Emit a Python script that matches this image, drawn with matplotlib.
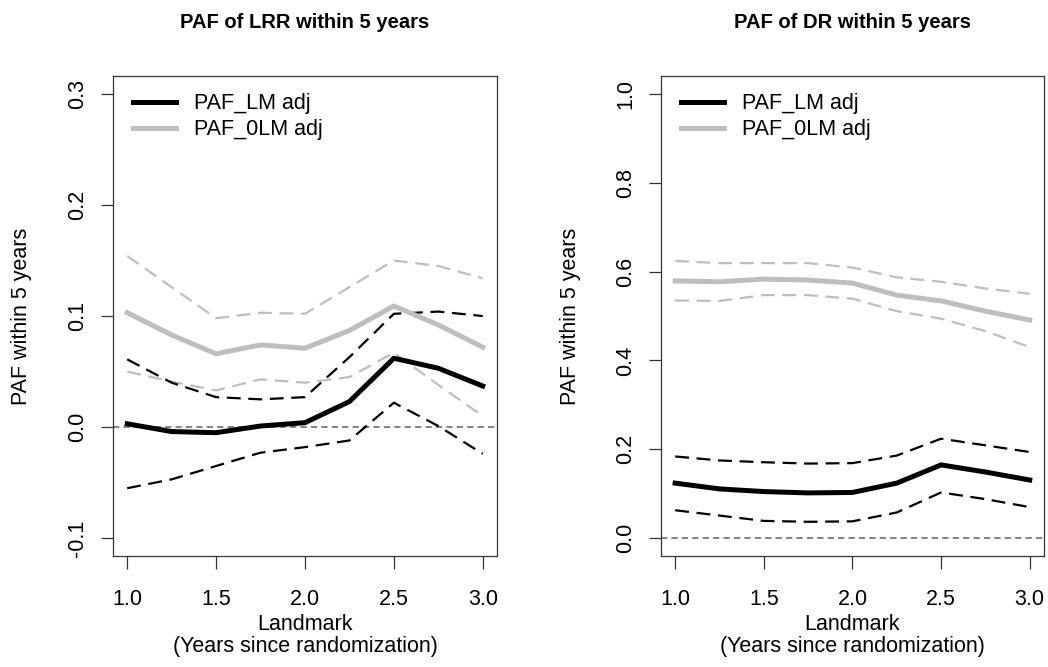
import matplotlib
matplotlib.use("Agg")
import matplotlib.pyplot as plt

plt.rcParams['font.family'] = ['Liberation Sans', 'DejaVu Sans']
plt.rcParams['lines.scale_dashes'] = False

# landmark times (years since randomization)
landmark = [1.0, 1.25, 1.5, 1.75, 2.0, 2.25, 2.5, 2.75, 3.0]

# PAF of LRR within 5 years
lrr_lm = [0.003, -0.004, -0.005, 0.001, 0.004, 0.023, 0.062, 0.053, 0.037]
lrr_lm_lo = [-0.055, -0.047, -0.035, -0.023, -0.018, -0.012, 0.022, 0.001, -0.024]
lrr_lm_hi = [0.061, 0.040, 0.027, 0.025, 0.027, 0.063, 0.102, 0.104, 0.100]
lrr_0lm = [0.103, 0.083, 0.066, 0.074, 0.071, 0.087, 0.109, 0.092, 0.072]
lrr_0lm_lo = [0.050, 0.041, 0.033, 0.043, 0.040, 0.045, 0.067, 0.038, 0.010]
lrr_0lm_hi = [0.154, 0.126, 0.098, 0.103, 0.102, 0.126, 0.150, 0.145, 0.134]

# PAF of DR within 5 years
dr_lm = [0.124, 0.111, 0.105, 0.102, 0.103, 0.124, 0.165, 0.149, 0.131]
dr_lm_lo = [0.063, 0.051, 0.039, 0.037, 0.038, 0.058, 0.103, 0.088, 0.070]
dr_lm_hi = [0.184, 0.175, 0.171, 0.168, 0.169, 0.186, 0.224, 0.209, 0.194]
dr_0lm = [0.579, 0.577, 0.583, 0.581, 0.574, 0.547, 0.534, 0.511, 0.491]
dr_0lm_lo = [0.535, 0.534, 0.547, 0.547, 0.539, 0.511, 0.494, 0.466, 0.430]
dr_0lm_hi = [0.624, 0.619, 0.619, 0.619, 0.609, 0.587, 0.577, 0.562, 0.550]

x_ticks = [1.0, 1.5, 2.0, 2.5, 3.0]
x_ticklabels = ["1.0", "1.5", "2.0", "2.5", "3.0"]
lrr_yticks = [-0.1, 0.0, 0.1, 0.2, 0.3]
lrr_yticklabels = ["-0.1", "0.0", "0.1", "0.2", "0.3"]
dr_yticks = [0.0, 0.2, 0.4, 0.6, 0.8, 1.0]
dr_yticklabels = ["0.0", "0.2", "0.4", "0.6", "0.8", "1.0"]

GRAY = '#bebebe'
FS = 15.5
DASH = (0, (10, 5.5))


def draw_panel(ax, title, lm, lm_lo, lm_hi, olm, olm_lo, olm_hi, ylim, yticks, yticklabels):
    ax.axhline(0, color='#606060', lw=1.1, ls=(0, (4.5, 3)), zorder=1)
    ax.plot(landmark, olm_lo, color=GRAY, lw=1.6, ls=DASH, zorder=2)
    ax.plot(landmark, olm_hi, color=GRAY, lw=1.6, ls=DASH, zorder=2)
    ax.plot(landmark, lm_lo, color='black', lw=1.6, ls=DASH, zorder=3)
    ax.plot(landmark, lm_hi, color='black', lw=1.6, ls=DASH, zorder=3)
    ax.plot(landmark, olm, color=GRAY, lw=3.6, label='PAF_0LM adj', zorder=4)
    ax.plot(landmark, lm, color='black', lw=3.6, label='PAF_LM adj', zorder=5)

    ax.set_xlim(0.92, 3.08)
    ax.set_ylim(*ylim)
    ax.set_xticks(x_ticks)
    ax.set_xticklabels(x_ticklabels)
    ax.set_yticks(yticks)
    ax.set_yticklabels(yticklabels, rotation=90, va='center')
    ax.tick_params(axis='x', length=9, width=0.9, pad=15, labelsize=FS, color='#333333')
    ax.tick_params(axis='y', length=9, width=0.9, pad=9, labelsize=FS, color='#333333')
    for s in ax.spines.values():
        s.set_linewidth(0.9)
        s.set_color('#333333')

    ax.text(0.5, 1.1125, title, transform=ax.transAxes, ha='center', va='center',
            fontsize=14.5, fontweight='bold')
    ax.text(-0.237, 0.5, 'PAF within 5 years', transform=ax.transAxes, rotation=90,
            ha='center', va='center', fontsize=FS)
    ax.text(0.5, -0.142, 'Landmark', transform=ax.transAxes, ha='center', va='center', fontsize=FS)
    ax.text(0.5, -0.188, '(Years since randomization)', transform=ax.transAxes,
            ha='center', va='center', fontsize=FS)

    h, l = ax.get_legend_handles_labels()
    ax.legend(h[::-1], l[::-1], loc='upper left', bbox_to_anchor=(0.03, 0.982), frameon=False,
              fontsize=FS, handlelength=2.0, handletextpad=0.85, labelspacing=0.24,
              borderaxespad=0)


fig = plt.figure(figsize=(10.48, 6.67), dpi=100)
ax1 = fig.add_axes([0.1078, 0.1664, 0.3664, 0.7196])
ax2 = fig.add_axes([0.6307, 0.1664, 0.3654, 0.7196])

draw_panel(ax1, 'PAF of LRR within 5 years', lrr_lm, lrr_lm_lo, lrr_lm_hi,
           lrr_0lm, lrr_0lm_lo, lrr_0lm_hi, (-0.116, 0.316), lrr_yticks, lrr_yticklabels)
draw_panel(ax2, 'PAF of DR within 5 years', dr_lm, dr_lm_lo, dr_lm_hi,
           dr_0lm, dr_0lm_lo, dr_0lm_hi, (-0.04, 1.04), dr_yticks, dr_yticklabels)

fig.savefig('out.png', dpi=100)
